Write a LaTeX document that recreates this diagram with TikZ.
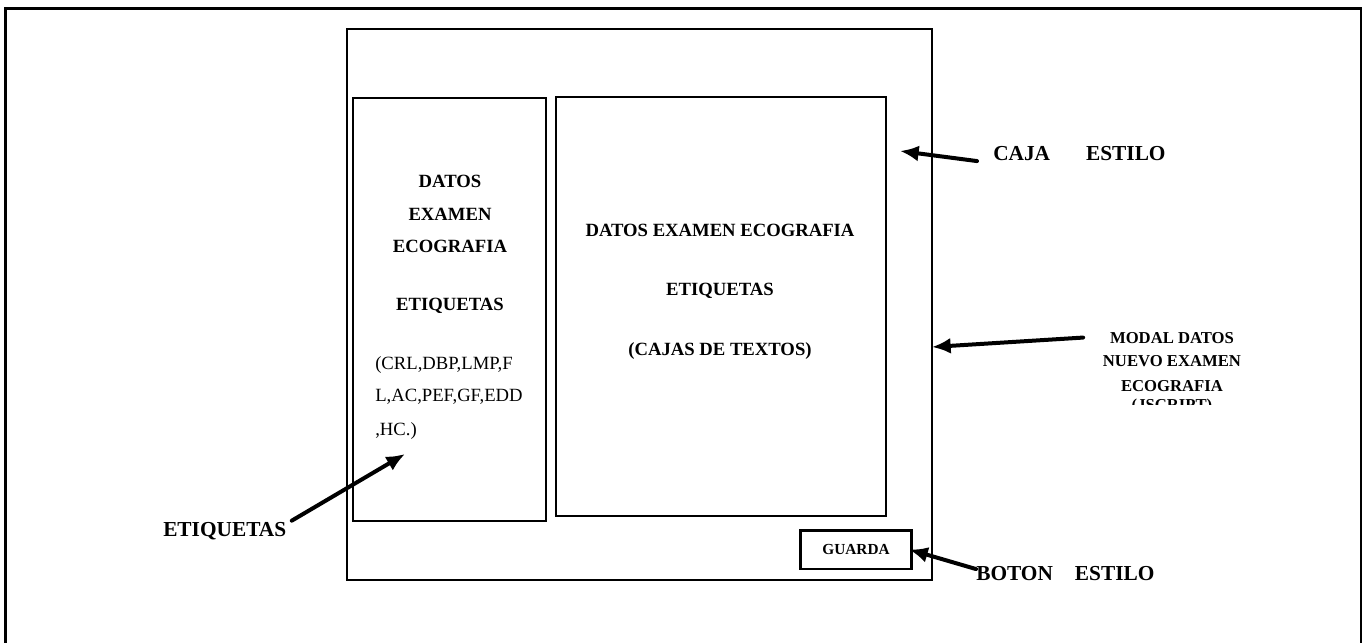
\documentclass[tikz,border=0pt]{standalone}
\usepackage{fontspec}
\setmainfont{Liberation Serif}
\usetikzlibrary{arrows.meta}

\tikzset{
  caja/.style={line width=1.8pt},
  txt/.style={inner sep=0pt, anchor=base, font=\fontsize{14}{16}\selectfont\bfseries},
  lista/.style={inner sep=0pt, anchor=base west, font=\fontsize{14}{16}\selectfont},
  rotulo/.style={inner sep=0pt, anchor=base west, font=\fontsize{16}{18}\selectfont\bfseries},
  modal/.style={inner sep=0pt, anchor=base, font=\fontsize{12.5}{14}\selectfont\bfseries},
  flecha/.style={line width=3pt, line cap=round, -{Latex[length=14pt,width=12pt]}},
}

\begin{document}
\begin{tikzpicture}[x=0.75pt,y=-0.75pt]
\useasboundingbox (0,0) rectangle (1365,643);

% --- Marco exterior ---
\draw[line width=2pt] (5.5,650) -- (5.5,8.5) -- (1361,8.5) -- (1361,650);

% --- Modal ---
\draw[caja] (347,29) rectangle (932,580);

% --- Caja de etiquetas ---
\draw[caja] (353,98) rectangle (546,521);
\node[txt] (d1) at (450,187) {DATOS};
\node[txt] (d2) at (450,220) {EXAMEN};
\node[txt] (d3) at (450,252) {ECOGRAFIA};
\node[txt] (d4) at (450,310) {ETIQUETAS};
\node[lista] (l1) at (375,369.5) {(CRL,DBP,LMP,F};
\node[lista] (l2) at (375,401.5) {L,AC,PEF,GF,EDD};
\node[lista] (l3) at (375,435) {,HC.)};

% --- Caja de textos ---
\draw[caja] (556,97) rectangle (886,516);
\node[txt] (c1) at (720,236) {DATOS EXAMEN ECOGRAFIA};
\node[txt] (c2) at (720,295) {ETIQUETAS};
\node[txt] (c3) at (720,355) {(CAJAS DE TEXTOS)};

% --- Boton ---
\node[draw, line width=2pt, minimum width=83.7pt, minimum height=29pt, inner sep=0pt,
      font=\fontsize{11.5}{13}\selectfont\bfseries] (guarda) at (856,549.5) {GUARDA};

% --- Rotulos ---
\node[rotulo] (caja) at (993,160.7) {CAJA\hspace{27pt}ESTILO};
\node[rotulo] (etiq) at (163,536) {ETIQUETAS};
\node[rotulo] (boton) at (976,580) {BOTON\hspace{16.5pt}ESTILO};

\begin{scope}
  \clip (1080,320) rectangle (1270,404.5);
  \node[modal] (m1) at (1172,343) {MODAL DATOS};
  \node[modal] (m2) at (1172,366.7) {NUEVO EXAMEN};
  \node[modal] (m3) at (1172,391) {ECOGRAFIA};
  \node[modal] (m4) at (1172,410.5) {(JSCRIPT)};
\end{scope}

% --- Flechas ---
\coordinate (cajaTip) at (900,151);
\coordinate (modalTip) at (932,347);
\coordinate (etiqTip) at (405,454);

\draw[flecha] ([xshift=-12pt,yshift=-5.5pt]caja.west) -- (cajaTip);
\draw[flecha] ([xshift=-20pt]m1.west) -- (modalTip);
\draw[flecha] ([xshift=4pt,yshift=7.5pt]etiq.east) -- (etiqTip);
\draw[flecha] ([yshift=3pt]boton.west) -- ([xshift=-3pt]guarda.east);

\end{tikzpicture}
\end{document}
